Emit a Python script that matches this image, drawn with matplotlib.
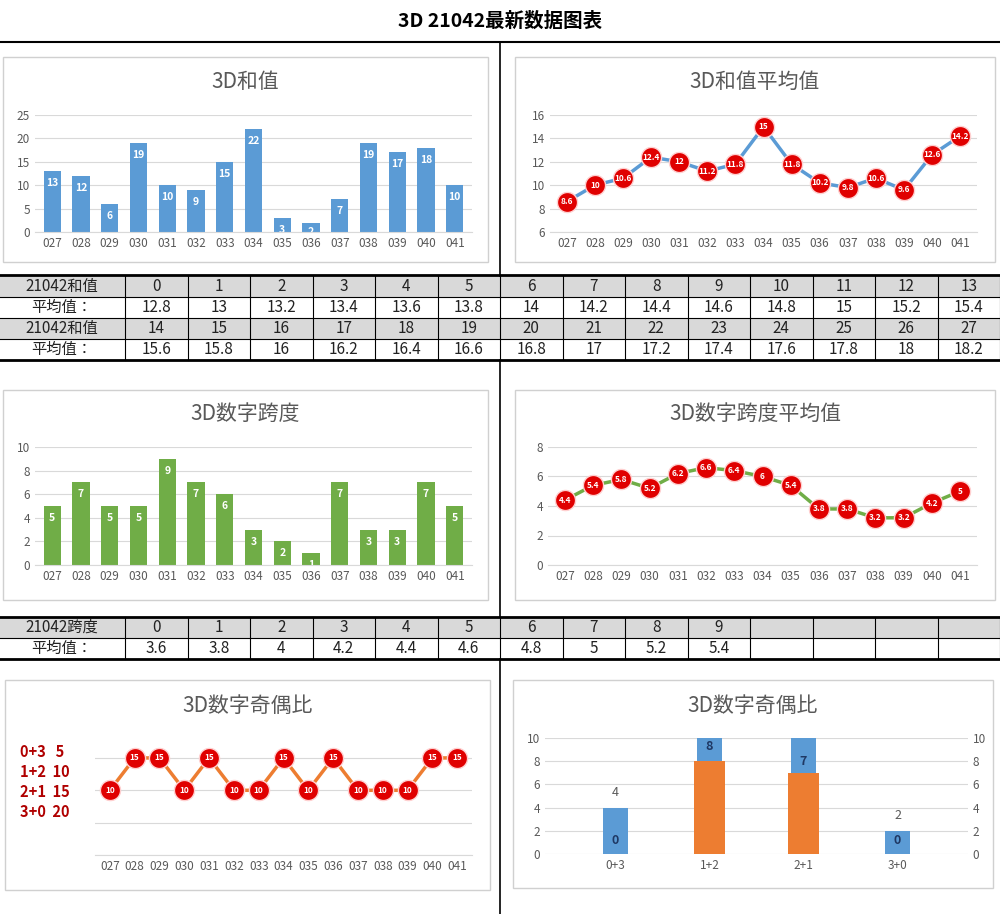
import glob
import matplotlib.pyplot as plt
from matplotlib import font_manager
from matplotlib.patches import Rectangle
from matplotlib.lines import Line2D

# make sure a CJK font is registered
for f in glob.glob('/usr/share/fonts/**/*CJK*', recursive=True):
    try:
        font_manager.fontManager.addfont(f)
    except Exception:
        pass
cjk = [f.name for f in font_manager.fontManager.ttflist if 'CJK' in f.name]
cjk_name = 'Noto Sans CJK SC' if 'Noto Sans CJK SC' in cjk else (cjk[0] if cjk else 'DejaVu Sans')
plt.rcParams['font.family'] = [cjk_name, 'DejaVu Sans']

periods = ['027', '028', '029', '030', '031', '032', '033', '034', '035', '036', '037', '038', '039', '040', '041']
sum_vals = [13, 12, 6, 19, 10, 9, 15, 22, 3, 2, 7, 19, 17, 18, 10]
sum_avg = [8.6, 10, 10.6, 12.4, 12, 11.2, 11.8, 15, 11.8, 10.2, 9.8, 10.6, 9.6, 12.6, 14.2]
span_vals = [5, 7, 5, 5, 9, 7, 6, 3, 2, 1, 7, 3, 3, 7, 5]
span_avg = [4.4, 5.4, 5.8, 5.2, 6.2, 6.6, 6.4, 6, 5.4, 3.8, 3.8, 3.2, 3.2, 4.2, 5]
odd_even = [10, 15, 15, 10, 15, 10, 10, 15, 10, 15, 10, 10, 10, 15, 15]

sum_keys = list(range(28))
sum_key_avg = [12.8, 13, 13.2, 13.4, 13.6, 13.8, 14, 14.2, 14.4, 14.6, 14.8, 15, 15.2, 15.4,
               15.6, 15.8, 16, 16.2, 16.4, 16.6, 16.8, 17, 17.2, 17.4, 17.6, 17.8, 18, 18.2]
span_keys = list(range(10))
span_key_avg = [3.6, 3.8, 4, 4.2, 4.4, 4.6, 4.8, 5, 5.2, 5.4]

ratio_cats = ['0+3', '1+2', '2+1', '3+0']
ratio_count = [0, 8, 7, 0]
ratio_miss = [4, 11, 11, 2]
ratio_legend = ['0+3   5', '1+2  10', '2+1  15', '3+0  20']

BLUE = '#5B9BD5'
GREEN = '#70AD47'
ORANGE = '#ED7D31'
GRID = '#D9D9D9'
TXT = '#595959'

W, H = 1000, 914
fig = plt.figure(figsize=(W / 100, H / 100), dpi=100)


def fx(x):
    return x / W


def fy(y):
    return 1 - y / H


def add_ax(x0, y0, x1, y1):
    return fig.add_axes([fx(x0), fy(y1), (x1 - x0) / W, (y1 - y0) / H])


def hline(y, x0=0, x1=W, lw=1.5, c='black'):
    fig.add_artist(Line2D([fx(x0), fx(x1)], [fy(y), fy(y)], color=c, lw=lw))


def vline(x, y0, y1, lw=1.2, c='black'):
    fig.add_artist(Line2D([fx(x), fx(x)], [fy(y0), fy(y1)], color=c, lw=lw))


def panel(x0, y0, x1, y1, title, ty):
    fig.add_artist(Rectangle((fx(x0), fy(y1)), (x1 - x0) / W, (y1 - y0) / H,
                             fill=False, ec='#D0D0D0', lw=1))
    fig.text(fx((x0 + x1) / 2), fy(ty), title, ha='center', va='center', fontsize=15, color=TXT)


def style(ax, ylim, yticks):
    ax.set_ylim(*ylim)
    ax.set_yticks(yticks)
    ax.grid(axis='y', color=GRID, lw=0.8)
    ax.set_axisbelow(True)
    for s in ax.spines.values():
        s.set_visible(False)
    ax.spines['bottom'].set_visible(True)
    ax.spines['bottom'].set_color(GRID)
    ax.tick_params(length=0, labelsize=8.5, labelcolor=TXT)
    ax.set_xlim(-0.6, len(periods) - 0.4)


def bar_chart(ax, vals, color, ylim, yticks):
    x = range(len(periods))
    ax.bar(x, vals, width=0.6, color=color)
    for i, v in enumerate(vals):
        y = max(v - ylim[1] * 0.06, ylim[1] * 0.04)
        ax.text(i, y, str(v), ha='center', va='top', color='white',
                fontsize=7.5, fontweight='bold', clip_on=True)
    ax.set_xticks(list(x))
    ax.set_xticklabels(periods)
    style(ax, ylim, yticks)


def line_chart(ax, vals, color, ylim, yticks, size=15):
    x = range(len(periods))
    ax.plot(x, vals, color=color, lw=2.5, zorder=2)
    ax.scatter(x, vals, s=size * 14, color='#E00000', edgecolors='#FFD0D0', lw=1, zorder=3)
    for i, v in enumerate(vals):
        ax.text(i, v, f'{v:g}', ha='center', va='center', color='white', fontsize=6,
                fontweight='bold', zorder=4)
    ax.set_xticks(list(x))
    ax.set_xticklabels(periods)
    style(ax, ylim, yticks)


# title bar
fig.text(0.5, fy(21), '3D 21042最新数据图表', ha='center', va='center', fontsize=14, fontweight='bold')
hline(42)
vline(500, 42, 276)

# top charts
panel(3, 57, 488, 262, '3D和值', 82)
ax = add_ax(35, 115, 472, 232)
bar_chart(ax, sum_vals, BLUE, (0, 25), range(0, 26, 5))

panel(515, 57, 995, 262, '3D和值平均值', 82)
ax = add_ax(550, 115, 977, 232)
line_chart(ax, sum_avg, BLUE, (6, 16), range(6, 17, 2))


def table(y0, keys, vals, label, ncols=14):
    rows = [(label, keys), ('平均值：', vals)]
    for r, (name, data) in enumerate(rows):
        yt = y0 + r * 21
        if r == 0:
            fig.add_artist(Rectangle((0, fy(yt + 21)), 1, 21 / H, color='#D9D9D9', lw=0))
        fig.text(fx(62), fy(yt + 10.5), name, ha='center', va='center', fontsize=11, color='#222222')
        for c in range(ncols):
            if c < len(data):
                v = data[c]
                fig.text(fx(125 + 62.5 * (c + 0.5)), fy(yt + 10.5), f'{v:g}', ha='center', va='center',
                         fontsize=11, color='#222222')
        hline(yt + 21, lw=0.8)
    for c in range(ncols + 1):
        vline(125 + 62.5 * c, y0, y0 + 42, lw=0.8)


hline(275, lw=2)
table(276, sum_keys[:14], sum_key_avg[:14], '21042和值')
table(318, sum_keys[14:], sum_key_avg[14:], '21042和值')
hline(360, lw=2)
vline(500, 360, 617)

# middle charts
panel(3, 390, 488, 600, '3D数字跨度', 414)
ax = add_ax(35, 447, 472, 565)
bar_chart(ax, span_vals, GREEN, (0, 10), range(0, 11, 2))

panel(515, 390, 995, 600, '3D数字跨度平均值', 414)
ax = add_ax(548, 447, 977, 565)
line_chart(ax, span_avg, GREEN, (0, 8), range(0, 9, 2))

hline(617, lw=2)
table(617, span_keys, span_key_avg, '21042跨度')
hline(659, lw=2)
vline(500, 659, 914)

# bottom left
panel(5, 680, 490, 890, '3D数字奇偶比', 706)
ax = add_ax(95, 745, 472, 855)
line_chart(ax, odd_even, ORANGE, (0, 17), [0, 5, 10, 15])
ax.set_yticklabels([])
for i, t in enumerate(ratio_legend):
    fig.text(fx(20), fy(752 + i * 20), t, ha='left', va='center', fontsize=10.5,
             fontweight='bold', color='#B00000')

# bottom right
panel(513, 680, 993, 888, '3D数字奇偶比', 706)
ax = add_ax(545, 738, 968, 854)
xr = range(len(ratio_cats))
ax.bar(xr, ratio_miss, width=0.26, color=BLUE, zorder=2)
ax.bar(xr, ratio_count, width=0.32, color=ORANGE, zorder=3)
for i in xr:
    if ratio_miss[i] <= 10:
        ax.text(i, ratio_miss[i] + 1.3, str(ratio_miss[i]), ha='center', va='center', fontsize=9, color=TXT)
    top = min(ratio_miss[i], 10)
    y = 1.2 if ratio_count[i] == 0 else (ratio_count[i] + top) / 2 + (0.3 if top - ratio_count[i] < 2.5 else -0.5)
    ax.text(i, y, str(ratio_count[i]), ha='center', va='center', fontsize=9, fontweight='bold',
            color='#1F3864', zorder=4)
ax.set_ylim(0, 10)
ax.set_yticks(range(0, 11, 2))
ax.set_xticks(list(xr))
ax.set_xticklabels(ratio_cats)
ax.set_xlim(-0.75, 3.75)
ax.grid(axis='y', color=GRID, lw=0.8)
ax.set_axisbelow(True)
for s in ax.spines.values():
    s.set_visible(False)
ax.tick_params(length=0, labelsize=8.5, labelcolor=TXT)
ax2 = ax.twinx()
ax2.set_ylim(0, 10)
ax2.set_yticks(range(0, 11, 2))
for s in ax2.spines.values():
    s.set_visible(False)
ax2.tick_params(length=0, labelsize=8.5, labelcolor=TXT)

fig.savefig('out.png', dpi=100)
